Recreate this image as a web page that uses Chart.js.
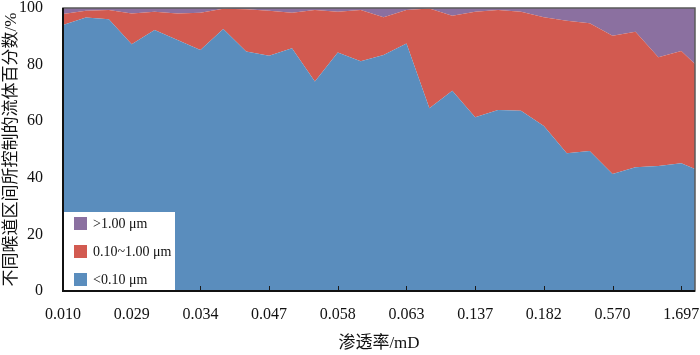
<!DOCTYPE html>
<html>
<head>
<meta charset="utf-8">
<script src="https://cdn.jsdelivr.net/npm/chart.js@4/dist/chart.umd.min.js"></script>
<style>
html,body{margin:0;padding:0;background:#fff;}
#wrap{width:700px;height:355px;position:relative;}
</style>
</head>
<body>
<div id="wrap"><canvas id="c" width="700" height="355"></canvas></div>
<script>
// Tick labels (permeability, mD) shown every third sample
const tickLabels = ['0.010','0.029','0.034','0.047','0.058','0.063','0.137','0.182','0.570','1.697'];
const tickEvery = 3;
// Series values (%), one per sample in order of increasing permeability
const seriesSmall = [94.0,96.6,96.0,87.2,92.2,88.7,85.2,92.6,84.6,83.1,85.8,74.0,84.3,81.2,83.4,87.5,64.6,70.8,61.4,64.0,63.7,58.3,48.7,49.5,41.3,43.7,44.2,45.1,41.8];
const seriesMid   = [3.9,2.4,3.3,10.9,6.5,9.4,13.1,7.1,15.0,15.9,12.5,25.3,14.4,18.1,13.3,11.8,35.2,26.5,37.3,35.3,35.0,38.4,46.8,45.1,48.9,47.9,38.4,39.7,35.3];
const seriesLarge = [2.1,1.0,0.7,1.9,1.3,1.9,1.7,0.3,0.4,1.0,1.7,0.7,1.3,0.7,3.3,0.7,0.2,2.7,1.3,0.7,1.3,3.3,4.5,5.4,9.8,8.4,17.4,15.2,22.9];
const seriesNames = ['<0.10 μm','0.10~1.00 μm','>1.00 μm'];
const yTicks = [0,20,40,60,80,100];

const colors = ['#5a8dbd','#d25a50','#8b70a0'];
const toPts = arr => arr.map((v,i)=>({x:i,y:v}));

const overlay = {
  id:'overlay',
  afterDatasetsDraw(chart){
    const {ctx, chartArea:a, scales:{x}} = chart;
    ctx.save();
    // inward tick marks on bottom axis
    ctx.strokeStyle = '#1a1a1a'; ctx.lineWidth = 1;
    x.ticks.forEach(t=>{
      const px = Math.round(x.getPixelForValue(t.value))+0.5;
      ctx.beginPath(); ctx.moveTo(px,a.bottom); ctx.lineTo(px,a.bottom-5); ctx.stroke();
    });
    // legend box
    const lx = a.left, ly = 212, lw = 112, lh = a.bottom-212;
    ctx.fillStyle = '#fff'; ctx.fillRect(lx,ly,lw,lh);
    const order = [2,1,0];
    ctx.font = '14px "Liberation Serif", serif';
    ctx.textBaseline = 'middle'; ctx.textAlign = 'left';
    order.forEach((di,k)=>{
      const cy = 223.5 + k*28;
      ctx.fillStyle = chart.data.datasets[di].backgroundColor;
      ctx.fillRect(74, cy-6.5, 13, 13);
      ctx.fillStyle = '#111';
      ctx.fillText(chart.data.datasets[di].label, 93, cy+0.5);
    });
    // frame
    ctx.strokeStyle = '#5a5a5a'; ctx.lineWidth = 1.5;
    ctx.strokeRect(a.left, a.top, a.right-a.left, a.bottom-a.top);
    ctx.strokeStyle = '#111'; ctx.lineWidth = 2;
    ctx.beginPath(); ctx.moveTo(a.left, a.top); ctx.lineTo(a.left, a.bottom); ctx.lineTo(a.right, a.bottom); ctx.stroke();
    ctx.restore();
  }
};

new Chart(document.getElementById('c'), {
  type:'line',
  data:{
    datasets:[
      {label:seriesNames[0], data:toPts(seriesSmall), backgroundColor:colors[0], fill:'origin'},
      {label:seriesNames[1], data:toPts(seriesMid), backgroundColor:colors[1], fill:'-1'},
      {label:seriesNames[2], data:toPts(seriesLarge), backgroundColor:colors[2], fill:'-1'}
    ]
  },
  options:{
    responsive:false, animation:false, devicePixelRatio:1,
    elements:{line:{tension:0, borderWidth:0}, point:{radius:0}},
    layout:{padding:{top:8,right:5,left:0,bottom:0}},
    plugins:{legend:{display:false}, tooltip:{enabled:false}},
    scales:{
      x:{
        type:'linear', min:0, max:27.6,
        grid:{display:false}, border:{display:false},
        afterBuildTicks(s){ s.ticks = tickLabels.map((_,k)=>({value:k*tickEvery})); },
        afterFit(s){ s.height = 64; s.paddingLeft = 0; s.paddingRight = 0; },
        ticks:{ autoSkip:false, maxRotation:0, padding:6, color:'#111',
          font:{family:'"Liberation Serif", serif', size:16},
          callback:(v)=>tickLabels[Math.round(v/tickEvery)] },
        title:{display:true, text:'渗透率/mD', color:'#111',
          font:{family:'"Liberation Serif","Noto Sans CJK SC", serif', size:17},
          padding:{top:0,bottom:1.5}}
      },
      y:{
        stacked:true, min:0, max:100,
        grid:{display:false}, border:{display:false},
        afterBuildTicks(s){ s.ticks = yTicks.map(v=>({value:v})); },
        afterFit(s){ s.width = 63; s.paddingTop = 0; s.paddingBottom = 0; },
        ticks:{ padding:12, color:'#111', font:{family:'"Liberation Serif", serif', size:16} },
        title:{display:true, text:'不同喉道区间所控制的流体百分数/%', color:'#111',
          font:{family:'"Liberation Serif","Noto Sans CJK SC", serif', size:17},
          padding:{top:1,bottom:0}}
      }
    }
  },
  plugins:[overlay]
});
</script>
</body>
</html>
